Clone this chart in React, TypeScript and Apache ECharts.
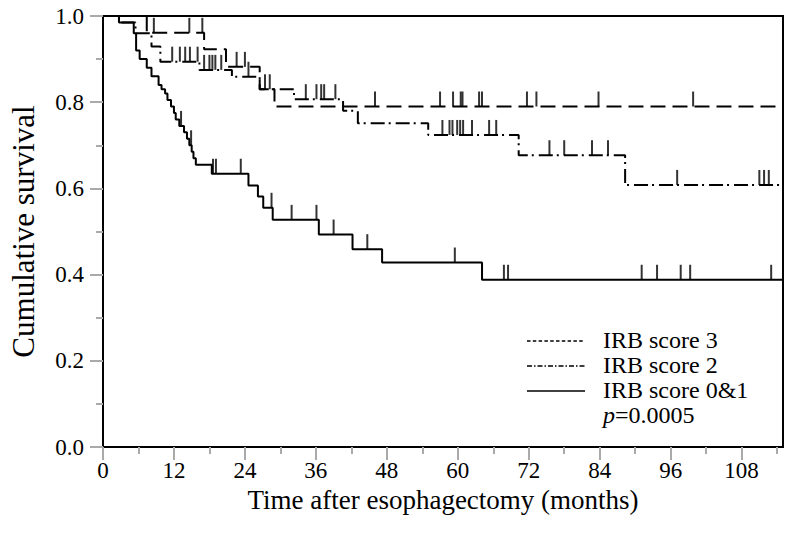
import React, { useEffect, useRef } from "react";
import * as echarts from "echarts";

// ---- data ----
const xMajorTicks = [0, 12, 24, 36, 48, 60, 72, 84, 96, 108];
const xMinorTicks = [6, 18, 30, 42, 54, 66, 78, 90, 102, 114];
const yTicks = [0, 0.2, 0.4, 0.6, 0.8, 1.0];
const seriesNames = ["IRB score 3", "IRB score 2", "IRB score 0&1"];
const pValueText = "=0.0005";
const xTitle = "Time after esophagectomy (months)";
const yTitle = "Cumulative survival";
const xMax = 115;

// Kaplan-Meier steps: [month, survival after the event]
const irb3Steps = [
  [0, 1], [7.4, 0.961], [17.1, 0.923], [20.8, 0.882], [26.5, 0.83], [29, 0.79], [115, 0.79],
];
const irb3Censored = [8.6, 14.6, 16.8, 22.6, 24, 27.4, 28.2, 46, 57, 59.2, 60.5, 60.8, 63.6, 64.1, 71.7, 73.3, 83.8, 99.8];

const irb2Steps = [
  [0, 1], [2.7, 0.985], [5.5, 0.96], [8.2, 0.929], [9.7, 0.894], [16.3, 0.875], [21.8, 0.859],
  [26.5, 0.83], [32.3, 0.807], [40.6, 0.78], [43.1, 0.751], [55, 0.724], [70.3, 0.677],
  [88.3, 0.608], [115, 0.608],
];
const irb2Censored = [
  11.7, 13, 13.9, 14.7, 16, 17.1, 18, 18.5, 19, 20, 24.6, 34.3, 36.1, 36.9, 37.4, 39.3,
  57.4, 58.6, 59.1, 59.9, 60.4, 60.9, 62.4, 65.3, 66.5, 75.5, 78, 82.7, 85.4, 97.1, 111, 111.8, 112.6,
];

const irb01Steps = [
  [0, 1], [2.7, 0.985], [5.2, 0.96], [5.6, 0.92], [6.2, 0.9], [7.4, 0.88], [8.2, 0.86], [9.4, 0.84],
  [9.9, 0.83], [10.5, 0.82], [10.9, 0.805], [11.5, 0.79], [12, 0.775], [12.3, 0.76], [12.9, 0.745],
  [13.7, 0.73], [14.2, 0.715], [14.6, 0.7], [15, 0.685], [15.3, 0.67], [15.7, 0.655], [18.4, 0.634],
  [24.6, 0.607], [26.2, 0.581], [27.1, 0.555], [28.7, 0.527], [36.5, 0.493], [42.2, 0.459],
  [47.2, 0.428], [64.1, 0.388], [115, 0.388],
];
const irb01Censored = [13.2, 14.9, 18.6, 19.1, 23.3, 28.5, 31.9, 36.1, 39, 44.7, 59.5, 67.8, 68.5, 91.1, 93.7, 97.7, 99.3, 113];

const FONT = '"Liberation Serif", "Times New Roman", serif';

function survivalAt(steps: number[][], t: number): number {
  let s = steps[0][1];
  for (const [tt, v] of steps) {
    if (tt <= t) s = v;
    else break;
  }
  return s;
}

export default function App() {
  const ref = useRef<HTMLDivElement>(null);

  useEffect(() => {
    if (!ref.current) return;
    const chart = echarts.init(ref.current, null, { renderer: "svg" });

    const groups = [
      { name: seriesNames[0], steps: irb3Steps, cens: irb3Censored, dash: [15, 7] as any },
      { name: seriesNames[1], steps: irb2Steps, cens: irb2Censored, dash: [14, 4, 2, 5] as any },
      { name: seriesNames[2], steps: irb01Steps, cens: irb01Censored, dash: "solid" as any },
    ];

    const series: any[] = [];
    groups.forEach((g) => {
      series.push({
        name: g.name,
        type: "line",
        step: "end",
        data: g.steps,
        showSymbol: false,
        symbol: "none",
        lineStyle: { color: "#000", width: 2, type: g.dash },
        silent: true,
        z: 2,
      });
      series.push({
        name: g.name + " censored",
        type: "scatter",
        data: g.cens.map((t) => [t, survivalAt(g.steps, t)]),
        symbol: "rect",
        symbolSize: [2, 15],
        symbolOffset: [0, "-50%"],
        itemStyle: { color: "#000" },
        silent: true,
        z: 3,
      });
    });

    const legendX0 = 527;
    const legendX1 = 585;
    const textX = 603;
    const rowY = [340, 365, 390, 415];
    const legendDashes = [[3.5, 2.3], [5, 2, 1.5, 2], null];

    const graphics: any[] = [];
    seriesNames.forEach((n, i) => {
      graphics.push({
        type: "line",
        shape: { x1: legendX0, y1: rowY[i] + 1, x2: legendX1, y2: rowY[i] + 1 },
        style: { stroke: "#000", lineWidth: 1.5, lineDash: legendDashes[i] },
        silent: true,
      });
      graphics.push({
        type: "text",
        x: textX,
        y: rowY[i],
        style: { text: n, fontFamily: FONT, fontSize: 24, fill: "#000", verticalAlign: "middle" },
        silent: true,
      });
    });
    graphics.push({
      type: "text",
      x: textX,
      y: rowY[3],
      style: {
        text: "{i|p}" + pValueText,
        fontFamily: FONT,
        fontSize: 24,
        fill: "#000",
        verticalAlign: "middle",
        rich: { i: { fontStyle: "italic", fontFamily: FONT, fontSize: 24, fill: "#000" } },
      },
      silent: true,
    });

    const tickColor = "#aaaaaa";

    chart.setOption({
      animation: false,
      backgroundColor: "#fff",
      grid: {
        left: 92,
        top: 16,
        right: 6,
        bottom: 92,
        show: true,
        borderColor: "#000",
        borderWidth: 2,
        backgroundColor: "transparent",
      },
      xAxis: [
        {
          type: "value",
          min: 0,
          max: xMax,
          interval: 12,
          name: xTitle,
          nameLocation: "middle",
          nameGap: 37,
          nameTextStyle: { fontFamily: FONT, fontSize: 27, color: "#000" },
          axisLine: { show: true, onZero: false, lineStyle: { color: "#000", width: 2 } },
          axisTick: { show: true, length: 13, customValues: xMajorTicks, lineStyle: { color: tickColor, width: 2 } },
          axisLabel: { customValues: xMajorTicks, margin: 12, fontFamily: FONT, fontSize: 23, color: "#000" },
          splitLine: { show: false },
        },
        {
          type: "value",
          min: 0,
          max: xMax,
          interval: 12,
          position: "bottom",
          axisLine: { show: false },
          axisTick: { show: true, length: 7, customValues: xMinorTicks, lineStyle: { color: tickColor, width: 2 } },
          axisLabel: { show: false },
          splitLine: { show: false },
        },
      ],
      yAxis: {
        type: "value",
        min: 0,
        max: 1,
        interval: 0.2,
        name: yTitle,
        nameLocation: "middle",
        nameGap: 64,
        nameTextStyle: { fontFamily: FONT, fontSize: 31, color: "#000" },
        axisLine: { show: true, onZero: false, lineStyle: { color: "#000", width: 2 } },
        axisTick: { show: true, length: 13, customValues: yTicks, lineStyle: { color: tickColor, width: 2 } },
        minorTick: { show: true, splitNumber: 2, length: 7, lineStyle: { color: tickColor, width: 2 } },
        axisLabel: {
          customValues: yTicks,
          margin: 19,
          fontFamily: FONT,
          fontSize: 23,
          color: "#000",
          formatter: (v: number) => v.toFixed(1),
        },
        splitLine: { show: false },
      },
      series,
      graphic: graphics,
    });

    return () => chart.dispose();
  }, []);

  return (
    <div
      ref={ref}
      style={{ position: "fixed", left: 0, top: 0, width: 789, height: 539, background: "#fff" }}
    />
  );
}
